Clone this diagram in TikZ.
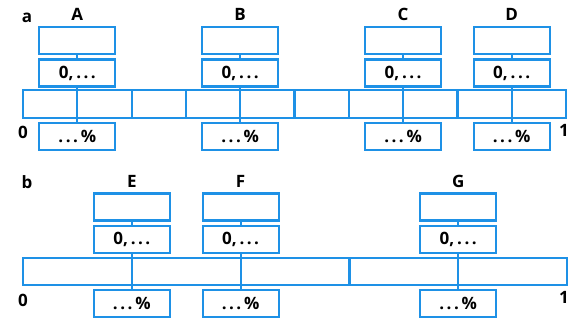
\documentclass[tikz,border=0pt]{standalone}
\usepackage{fontspec}
\setsansfont{Open Sans}
\usetikzlibrary{positioning}
\definecolor{lineblue}{RGB}{30,145,230}
\newcommand\labfont{\sffamily\bfseries\fontsize{17}{17}\selectfont}
\newcommand\numfont{\sffamily\bfseries\fontsize{17}{17}\selectfont}
\newcommand\spdots{.\kern2.5pt.\kern2.5pt.}

\begin{document}
\begin{tikzpicture}[x=1pt,y=-1pt,line width=2.2pt,
    box/.style={rectangle,draw=lineblue,minimum width=76pt,minimum height=27pt,inner sep=0pt,font=\numfont},
    seg/.style={rectangle,draw=lineblue,minimum height=28pt,inner sep=0pt},
    link/.style={draw=lineblue},
    lab/.style={font=\labfont,inner sep=0pt}]

\useasboundingbox (0,0) rectangle (569,321);

% a
\foreach \i in {0,...,9}
  \node[seg,minimum width=54.3pt] (a\i) at ({23+54.3*(\i+.5)},104) {};

\foreach \n/\x in {A/77.3,B/240.2,C/403.1,D/511.7} {
  \node[box] (\n1) at (\x,40.5) {};
  \node[box] (\n2) at (\x,73) {0,\,\spdots};
  \node[box] (\n3) at (\x,136.5) {\spdots\,\%};
  \node[lab,above=4pt of \n1] (\n0) {\n};
  \draw[link] (\n1) -- (\n2);
  \draw[link] (\n2) -- (\n3);
}

\node[lab] (pa) at (27,18) {a};
\node[lab] (za) at (23,132) {0};
\node[lab] (oa) at (564,130) {1};

% b
\foreach \i in {0,...,4}
  \node[seg,minimum width=108.8pt,minimum height=27pt] (b\i) at ({23+108.8*(\i+.5)},271.5) {};

\foreach \n/\x in {E/131.8,F/240.6,G/458.2} {
  \node[box] (\n1) at (\x,207) {};
  \node[box] (\n2) at (\x,239.5) {0,\,\spdots};
  \node[box] (\n3) at (\x,303.5) {\spdots\,\%};
  \node[lab,above=4pt of \n1] (\n0) {\n};
  \draw[link] (\n1) -- (\n2);
  \draw[link] (\n2) -- (\n3);
}

\node[lab] (pb) at (27,182.5) {b};
\node[lab] (zb) at (23,300) {0};
\node[lab] (ob) at (564,297) {1};

\end{tikzpicture}
\end{document}
